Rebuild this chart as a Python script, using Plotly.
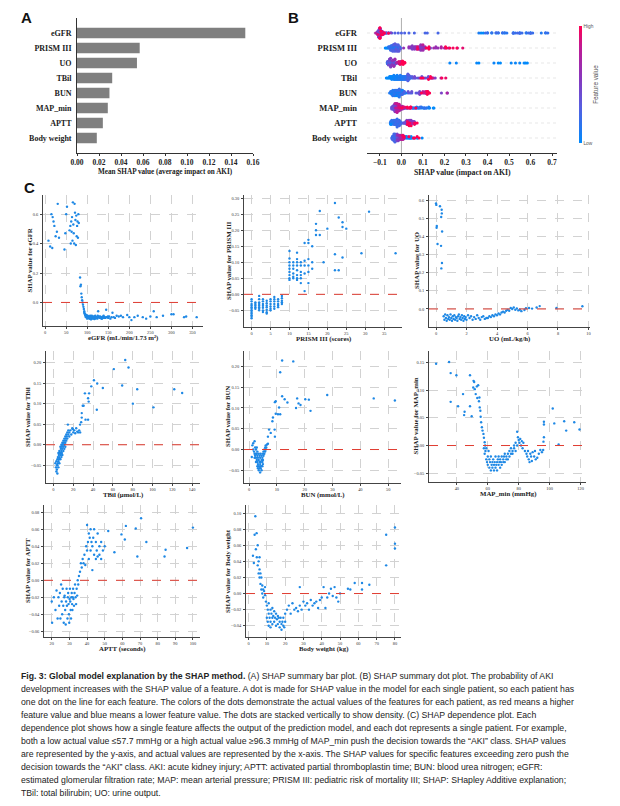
import numpy as np
import plotly.graph_objects as go

# ---------------- data ----------------
features = ["eGFR", "PRISM III", "UO", "TBil", "BUN", "MAP_min", "APTT", "Body weight"]
mean_abs_shap = [0.153, 0.057, 0.0545, 0.032, 0.0295, 0.028, 0.0235, 0.018]

egfr_val = [8, 12, 15, 17, 18, 20, 22, 25, 28, 30, 33, 46, 48, 50, 52,
            58, 60, 61, 62, 63, 64, 65, 66, 67, 68, 69, 70, 71, 72, 73, 74, 75, 76, 77, 78, 79, 80,
            83, 84, 85, 86, 87, 88, 89, 90, 91,
            92, 93, 94, 95, 96, 97, 98, 99, 100, 101, 102, 103, 104, 105, 106, 107, 108, 109, 110, 111,
            112, 113, 114, 115, 116, 117, 118, 119, 120, 122, 124, 126, 128, 130, 132, 134, 136, 138, 140, 142,
            145, 148, 150, 152, 155, 158, 160, 163, 166, 170,
            93, 95, 97, 99, 101, 103, 105, 107, 109, 111, 113, 115, 117, 119, 121, 123, 125, 127, 129, 131,
            133, 135, 137, 139, 141, 143, 146, 149,
            175, 180, 185, 195, 200, 205, 212, 220, 232, 240, 250, 258, 265, 280, 300, 305, 330, 335, 360]
egfr_shap = [0.42, 0.38, 0.60, 0.37, 0.58, 0.55, 0.52, 0.45, 0.48, 0.67, 0.44, 0.36, 0.47, 0.60, 0.65,
             0.49, 0.52, 0.40, 0.55, 0.48, 0.58, 0.42, 0.68, 0.53, 0.47, 0.40, 0.67, 0.61, 0.56, 0.39, 0.59,
             0.45, 0.52, 0.55, 0.44, 0.60, 0.54,
             0.17, 0.11, 0.12, 0.06, 0.035, 0.015, 0.0, -0.015, -0.03,
             -0.045, -0.06, -0.075, -0.08, -0.09, -0.095, -0.085, -0.10, -0.11, -0.09,
             -0.1, -0.105, -0.095, -0.11, -0.1, -0.09, -0.105, -0.115, -0.1, -0.095,
             -0.108, -0.1, -0.11, -0.105, -0.095, -0.112, -0.1, -0.09, -0.105, -0.1,
             -0.11, -0.06, -0.095, -0.1, -0.105, -0.11, -0.1, -0.095, -0.105, -0.1,
             -0.05, -0.1, -0.105, -0.095, -0.11, -0.1, -0.07, -0.1, -0.105, -0.09,
             -0.07, -0.085, -0.1, -0.09, -0.105, -0.095, -0.1, -0.11, -0.1, -0.09,
             -0.105, -0.1, -0.095, -0.11, -0.1, -0.105, -0.09, -0.1, -0.105, -0.095,
             -0.1, -0.11, -0.1, -0.09, -0.1, -0.105, -0.1, -0.095,
             -0.095, -0.09, -0.1, -0.085, -0.1, -0.12, -0.1, -0.09, -0.1, -0.11,
             -0.095, -0.06, -0.1, -0.09, -0.08, -0.08, -0.1, -0.095, -0.1]

prism_score = [0, 0, 0, 0, 0, 0, 0, 0, 0, 0, 0, 0,
               1, 1, 1, 1, 1,
               2, 2, 2, 2, 2, 2, 2, 2,
               3, 3, 3, 3, 3, 3, 3,
               4, 4, 4, 4, 4, 4, 4,
               5, 5, 5, 5, 5, 5,
               6, 6, 6, 6, 6, 6,
               7, 7, 7, 7, 7,
               8, 8, 8, 8, 8,
               10, 10, 10, 10, 10, 10, 10, 10, 10,
               11, 11, 11, 11, 11, 11,
               12, 12, 12, 12, 12, 12, 12, 12,
               13, 13, 13, 13, 13, 13,
               14, 14, 14, 14, 14,
               15, 15, 15, 15, 15, 15,
               16, 16, 16,
               17, 17, 17,
               18, 18,
               19, 20,
               22, 22, 22,
               23, 23,
               24, 24, 24,
               25, 29, 31, 38]
prism_shap = [-0.015, -0.022, -0.03, -0.035, -0.04, -0.045, -0.05, -0.055, -0.06, -0.065, -0.07, -0.075,
              -0.025, -0.03, -0.035, -0.04, -0.045,
              -0.005, -0.015, -0.025, -0.03, -0.035, -0.04, -0.045, -0.05,
              -0.015, -0.022, -0.03, -0.036, -0.042, -0.05, -0.055,
              -0.02, -0.028, -0.035, -0.04, -0.048, -0.056, -0.06,
              -0.015, -0.022, -0.03, -0.038, -0.045, -0.05,
              -0.008, -0.015, -0.022, -0.03, -0.038, -0.045,
              -0.015, -0.022, -0.03, -0.035, -0.04,
              -0.005, -0.012, -0.02, -0.025, -0.03,
              0.135, 0.112, 0.10, 0.09, 0.08, 0.07, 0.06, 0.05, 0.045,
              0.10, 0.09, 0.08, 0.065, 0.055, 0.05,
              0.13, 0.11, 0.10, 0.09, 0.075, 0.06, 0.05, 0.045,
              0.10, 0.09, 0.07, 0.06, 0.05, 0.035,
              0.16, 0.105, 0.09, 0.065, 0.01,
              0.17, 0.16, 0.11, 0.09, 0.07, 0.035,
              0.15, 0.10, 0.08,
              0.22, 0.20, 0.185,
              0.26, 0.185,
              0.10, 0.205,
              0.285, 0.125, 0.075,
              0.24, 0.075,
              0.225, 0.21, 0.115,
              0.205, 0.128, 0.258, 0.128]

uo_val = [0.0, 0.02, 0.04, 0.05, 0.1, 0.26, 0.33, 0.37, 0.38, 0.34, 0.40, 0.39, 0.35,
          0.5, 0.55, 0.6, 0.65, 0.7, 0.75, 0.8, 0.85, 0.9, 0.95, 1.0, 1.05, 1.1, 1.15, 1.2,
          1.25, 1.3, 1.35, 1.4, 1.45, 1.5, 1.55, 1.6, 1.65, 1.7, 1.75, 1.8, 1.85, 1.9, 1.95,
          2.0, 2.1, 2.2, 2.3, 2.4, 2.5, 2.6, 2.7, 2.8, 2.9, 3.0, 3.1, 3.2, 3.3,
          3.4, 3.5, 3.6, 3.7, 3.8, 3.9, 4.0, 4.1, 4.2, 4.3, 4.4, 4.5, 4.6, 4.7, 4.8,
          4.9, 5.0, 5.1, 5.2, 5.3, 5.4, 5.5, 5.6, 5.8, 5.9,
          6.1, 6.3, 6.6, 6.8, 7.9, 9.6]
uo_shap = [0.585, 0.577, 0.45, 0.46, 0.36, 0.57, 0.35, 0.55, 0.53, 0.51, 0.43, 0.255, 0.225,
           -0.04, -0.06, -0.03, -0.05, -0.065, -0.035, -0.055, -0.045, -0.06, -0.03,
           -0.05, -0.065, -0.04, -0.055, -0.035, -0.06, -0.045, -0.05, -0.065, -0.04,
           -0.03, -0.055, -0.045, -0.06, -0.035, -0.05, -0.065, -0.04, -0.055, -0.045,
           -0.06, -0.035, -0.05, -0.04, -0.06, -0.045, -0.055, -0.035, -0.05, -0.06,
           -0.045, -0.04, -0.055, -0.05,
           -0.05, -0.04, -0.045, -0.035, -0.04, -0.03, -0.035, -0.025, -0.03, -0.02,
           -0.015, -0.02, -0.01, -0.005, -0.01,
           0.005, 0.0, 0.008, -0.005, 0.003, -0.008, -0.004, -0.012, -0.006, 0.004,
           0.005, 0.002, 0.008, 0.016, 0.005, 0.015]

tbil_val = [2, 2.5, 3, 3, 3.5, 3.5, 4, 4, 4, 4.5, 4.5, 5, 5, 5, 5.5, 5.5, 6, 6, 6, 6.5,
            6.5, 7, 7, 7, 7.5, 7.5, 8, 8, 8, 8.5, 8.5, 9, 9, 9, 9.5, 10, 10, 10, 10.5, 11,
            11, 11, 11.5, 12, 12, 12, 12.5, 13, 13, 13.5, 14, 14, 15, 15, 16, 16, 17, 18, 19, 20,
            21, 22, 23, 24, 25, 26, 27,
            14.6, 19.6, 26.9, 28, 28.6, 28.6, 29.6, 30.5, 32.4, 35, 31.8, 36, 35, 35.6, 43.8,
            38.2, 40.9, 44.2, 49.9, 61, 69.4, 72.5, 75.8, 80.2, 84.6, 101, 122, 130]
tbil_shap = [-0.045, -0.055, -0.04, -0.065, -0.05, -0.06, -0.035, -0.05, -0.07, -0.03,
             -0.045, -0.02, -0.04, -0.055, -0.025, -0.035, -0.015, -0.03, -0.045, -0.02,
             -0.035, -0.005, -0.02, -0.035, -0.01, -0.025, 0.0, -0.015, -0.03, -0.005,
             -0.02, 0.005, -0.01, -0.025, 0.0, 0.01, -0.005, -0.015, 0.005, 0.015,
             0.0, -0.01, 0.01, 0.02, 0.005, -0.005, 0.015, 0.025, 0.01, 0.02,
             0.03, 0.015, 0.025, 0.035, 0.02, 0.03, 0.035, 0.025, 0.04, 0.03,
             0.035, 0.028, 0.04, 0.032, 0.03, 0.035, 0.03,
             0.049, 0.038, 0.049, 0.055, 0.066, 0.077, 0.095, 0.095, 0.061, 0.061, 0.125, 0.125,
             0.113, 0.105, 0.085, 0.142, 0.157, 0.149, 0.138, 0.184, 0.144, 0.206, 0.188, 0.100,
             0.135, 0.091, 0.135, 0.126]

bun_val = [1.0, 1.2, 1.5, 1.5, 1.8, 2.0, 2.0, 2.2, 2.2, 2.5, 2.5, 2.5, 2.8, 2.8, 3.0, 3.0, 3.0,
           3.2, 3.2, 3.5, 3.5, 3.5, 3.8, 3.8, 4.0, 4.0, 4.0, 4.2, 4.2, 4.5, 4.5, 4.5, 4.8, 4.8,
           5.0, 5.0, 5.2, 5.2, 5.5, 5.5, 5.8, 5.8, 6.0, 6.0, 6.2, 6.5,
           2.0, 2.5, 3.0, 3.5, 4.0, 4.5, 5.0, 3.2, 3.8, 4.2, 2.8, 4.8,
           6.8, 6.8, 7.2, 7.8, 8.4, 8.6, 9.2, 9.6, 9.3, 9.3, 9.6, 10.4, 10.8, 11.2, 11.2,
           11.9, 11.9, 12.8, 13.8, 15.9, 16.9, 17.3, 17.8, 18.5, 20.2, 21.5, 22.1, 28.1, 44.8, 52.4]
bun_shap = [-0.018, 0.01, 0.0, 0.015, -0.005, 0.02, -0.01, 0.005, -0.015, -0.01,
            -0.02, 0.0, -0.025, -0.01, -0.03, -0.015, -0.005, -0.035, -0.02, -0.04,
            -0.025, -0.01, -0.03, -0.045, -0.055, -0.035, -0.02, -0.045, -0.03, -0.04,
            -0.025, -0.015, -0.03, -0.02, -0.025, -0.01, -0.015, -0.005, -0.01, 0.0,
            -0.005, 0.005, 0.0, 0.01, 0.005, 0.012,
            -0.02, -0.03, -0.04, -0.05, -0.04, -0.05, -0.035, -0.045, -0.015, -0.01, 0.005, -0.04,
            0.014, 0.031, 0.048, 0.04, 0.068, 0.077, 0.048, 0.086, 0.031, 0.114, 0.116, 0.085,
            0.101, 0.085, 0.186, 0.214, 0.128, 0.121, 0.113, 0.212, 0.1, 0.123, 0.111, 0.107,
            0.121, 0.12, 0.093, 0.131, 0.123, 0.118]

map_val = [26.6, 35, 36, 36, 39.7, 40.8, 44, 45, 44.7, 48.5, 48.5, 49.6, 50.6, 50.8, 51.2, 51.6,
           52.2, 52.9, 53.2, 53.8, 54.3, 54.6, 54.8, 55.2, 55.4, 55.7, 56.2, 56.6, 57.2, 57.5, 58.0, 58.3,
           57.5, 58, 58.5, 59, 59, 59.5, 60, 60, 60.5, 61, 61, 61.5, 62, 62, 62.5, 63, 63, 63.5, 64, 64,
           64.5, 65, 65, 65.5, 66, 66, 66.5, 67, 67, 67.5, 68, 68, 68.5, 69, 69, 70, 70, 70.5, 71, 71,
           72, 72, 73, 73, 74, 74, 75, 75, 76, 76, 77, 77, 78, 78, 79,
           79, 79.5, 80, 80.5, 81, 81.5, 82, 82.5, 83, 84, 85, 85.5, 86, 86.5, 87, 87.5, 88, 88.5,
           89, 90, 90.5, 91, 92, 93, 94, 95,
           96.3, 96.3, 96.3, 96.0, 95.8, 102, 103, 105.8, 109.4, 110.7, 115.9, 119.3]
map_shap = [0.148, 0.151, 0.131, 0.079, 0.127, 0.071, 0.093, 0.061, 0.055, 0.127, 0.071, 0.053,
            0.105, 0.117, 0.115, 0.102, 0.093, 0.107, 0.086, 0.109, 0.08, 0.087, 0.069, 0.063,
            0.052, 0.042, 0.033, 0.027, 0.021, 0.014, 0.006, 0.0,
            -0.005, -0.015, -0.01, -0.025, -0.005, -0.03, -0.02, -0.035, -0.01, -0.04,
            -0.025, -0.03, -0.045, -0.02, -0.035, -0.03, -0.04, -0.025, -0.035, -0.045,
            -0.03, -0.04, -0.02, -0.035, -0.03, -0.045, -0.025, -0.035, -0.02, -0.03,
            -0.04, -0.025, -0.03, -0.02, -0.035, -0.025, -0.03, -0.02, -0.03, -0.015,
            -0.025, -0.02, -0.015, -0.025, -0.02, -0.01, -0.015, -0.005, -0.01, -0.015,
            0.0, -0.005, 0.005, -0.01, 0.0,
            0.025, 0.015, 0.01, 0.005, 0.012, 0.0, 0.008, -0.005, 0.005, -0.01,
            -0.015, -0.02, -0.01, -0.025, -0.03, -0.015, -0.02, -0.028, -0.012, -0.02,
            -0.01, -0.025, -0.022, -0.015, -0.008, -0.012,
            0.038, 0.043, 0.015, 0.007, -0.008, 0.067, 0.04, 0.002, 0.044, 0.027, 0.042, 0.029]

aptt_val = [20.0, 21.2, 22.1, 22.7, 23.3, 23.8, 24.2, 24.6, 24.9, 25.3, 25.6, 25.9, 26.2, 26.5,
            26.8, 27.1, 27.3, 27.6, 27.9, 28.1, 28.4, 28.6, 28.9, 29.1, 29.3, 29.5, 29.7, 29.9,
            30.1, 30.3, 30.5, 30.7, 30.9, 31.1, 31.3, 31.5, 31.7, 31.9, 32.1, 32.3, 32.6, 32.9,
            33.2, 33.5, 33.8, 34.1, 34.4, 34.7, 35.0, 35.4, 20.2,
            36, 36.5, 37, 37.5, 38, 38.5, 39, 39.5, 40, 40, 40.5, 41, 41, 41.5, 42, 42, 42.5,
            43, 43, 43.5, 44, 44, 45, 45, 45.5, 46, 46, 47, 47, 48, 48, 49, 50,
            52, 55.5, 59.5, 61.4, 62, 67.6, 68.5, 70.6, 73.6, 83.9, 84.5, 96.7, 100]
aptt_shap = [-0.025, -0.02, -0.035, -0.012, -0.045, -0.02, -0.03, -0.015, -0.045, -0.005,
             -0.025, -0.04, -0.01, -0.03, -0.05, -0.02, -0.018, -0.035, -0.052, -0.025,
             -0.01, -0.03, -0.045, -0.02, -0.015, -0.028, -0.04, -0.05, -0.022, -0.01,
             -0.025, -0.035, -0.045, -0.02, -0.015, -0.028, -0.035, -0.02, -0.01, -0.022,
             -0.03, -0.015, -0.005, -0.02, -0.028, -0.01, -0.018, 0.0, -0.005, 0.005, -0.05,
             0.01, 0.02, 0.015, 0.025, 0.02, 0.03, 0.018, 0.04, 0.035, 0.065,
             0.045, 0.025, 0.055, 0.05, 0.06, 0.035, 0.045, 0.012, 0.04, 0.05,
             0.03, 0.06, 0.025, 0.045, 0.035, 0.028, 0.055, 0.04, 0.03, 0.045,
             0.025, 0.035, 0.04,
             0.058, 0.033, 0.054, 0.048, 0.064, 0.061, 0.028, 0.073, 0.045, 0.028, 0.036, 0.038, 0.062]

bw_val = [2.4, 2.9, 3.3, 3.7, 4.4, 4.0, 4.5, 5.0, 5.0, 5.5, 5.5, 6.0, 6.0, 6.0, 6.5, 6.5, 7.0, 7.0,
          7.5, 7.5, 8.0, 8.0, 8.5, 9.0, 9.0,
          9.5, 10, 10, 10.5, 10.5, 11, 11, 11, 11.5, 12, 12, 12, 12.5, 13, 13, 13, 13.5, 14, 14, 14.5,
          15, 15, 15.5, 16, 16, 16.5, 17, 17, 17.5, 18, 18, 18.5, 19, 19, 19.5, 20, 20,
          21, 22, 23, 24, 25, 26, 27, 28, 28, 29, 30, 31, 32, 33, 34, 35, 36, 37, 38, 39,
          40, 41, 42, 43, 44, 45, 46, 47, 48, 49, 50,
          54.3, 55.6, 58, 62, 62, 66, 75.2, 75.2, 80, 80, 80]
bw_shap = [0.047, 0.038, 0.073, 0.096, 0.075, 0.055, 0.045, 0.06, 0.035, 0.04,
           0.025, 0.045, 0.03, 0.02, 0.025, 0.012, 0.02, 0.005, 0.01, 0.0,
           0.005, -0.005, 0.003, -0.002, 0.008,
           -0.01, -0.015, -0.03, -0.02, -0.035, -0.025, -0.04, -0.012, -0.03, -0.02,
           -0.035, -0.042, -0.025, -0.03, -0.018, -0.038, -0.028, -0.022, -0.035, -0.03,
           -0.025, -0.04, -0.032, -0.028, -0.038, -0.03, -0.035, -0.042, -0.03, -0.038,
           -0.045, -0.035, -0.04, -0.03, -0.042, -0.035, -0.025,
           -0.02, -0.015, -0.025, -0.012, -0.02, -0.018, -0.022, 0.008, -0.015, -0.02,
           -0.01, -0.015, -0.012, -0.02, -0.008, -0.015, -0.012, -0.01, -0.018, -0.008,
           -0.005, 0.008, -0.018, -0.005, 0.0, 0.006, -0.003, 0.008, -0.005, -0.01, 0.0,
           0.006, 0.005, 0.013, 0.013, 0.005, 0.011, 0.073, 0.035, 0.082, 0.062, 0.056]

# tick values
bar_ticks = [0.00, 0.02, 0.04, 0.06, 0.08, 0.10, 0.12, 0.14, 0.16]
swarm_ticks = [-0.1, 0.0, 0.1, 0.2, 0.3, 0.4, 0.5, 0.6, 0.7]
egfr_xt, egfr_yt = [0, 50, 100, 150, 200, 250, 300, 350], [0.0, 0.2, 0.4, 0.6]
prism_xt, prism_yt = [0, 5, 10, 15, 20, 25, 30, 35], [-0.05, 0.0, 0.05, 0.10, 0.15, 0.20, 0.25, 0.30]
uo_xt, uo_yt = [0, 2, 4, 6, 8, 10], [0.0, 0.1, 0.2, 0.3, 0.4, 0.5, 0.6]
tbil_xt, tbil_yt = [0, 20, 40, 60, 80, 100, 120, 140], [-0.05, 0.0, 0.05, 0.10, 0.15, 0.20]
bun_xt, bun_yt = [0, 10, 20, 30, 40, 50], [-0.05, 0.0, 0.05, 0.10, 0.15, 0.20]
map_xt, map_yt = [40, 60, 80, 100, 120], [-0.05, 0.0, 0.05, 0.10, 0.15]
aptt_xt, aptt_yt = [20, 30, 40, 50, 60, 70, 80, 90, 100], [-0.06, -0.04, -0.02, 0.0, 0.02, 0.04, 0.06, 0.08]
bw_xt, bw_yt = [0, 10, 20, 30, 40, 50, 60, 70, 80], [-0.04, -0.02, 0.0, 0.02, 0.04, 0.06, 0.08, 0.10]

caption_lines = [
    "<b>Fig. 3: Global model explanation by the SHAP method.</b> (A) SHAP summary bar plot. (B) SHAP summary dot plot. The probability of AKI",
    "development increases with the SHAP value of a feature. A dot is made for SHAP value in the model for each single patient, so each patient has",
    "one dot on the line for each feature. The colors of the dots demonstrate the actual values of the features for each patient, as red means a higher",
    "feature value and blue means a lower feature value. The dots are stacked vertically to show density. (C) SHAP dependence plot. Each",
    "dependence plot shows how a single feature affects the output of the prediction model, and each dot represents a single patient. For example,",
    "both a low actual value \u226457.7 mmHg or a high actual value \u226596.3 mmHg of MAP_min push the decision towards the \u201cAKI\u201d class. SHAP values",
    "are represented by the y-axis, and actual values are represented by the x-axis. The SHAP values for specific features exceeding zero push the",
    "decision towards the \u201cAKI\u201d class. AKI: acute kidney injury; APTT: activated partial thromboplastin time; BUN: blood urea nitrogen; eGFR:",
    "estimated glomerular filtration rate; MAP: mean arterial pressure; PRISM III: pediatric risk of mortality III; SHAP: SHapley Additive explanation;",
    "TBil: total bilirubin; UO: urine output.",
]

# ---------------- layout helpers ----------------
W, H = 620, 806
SERIF = "Liberation Serif"
SANS = "Liberation Sans"


def dx(a, b):
    return [a / W, b / W]


def dy(top, bottom):
    return [1 - bottom / H, 1 - top / H]


def swarm_offsets(vals, nbins=100, row_height=0.4):
    v = np.asarray(vals, float)
    q = np.round(nbins * (v - v.min()) / (v.max() - v.min() + 1e-8))
    order = np.argsort(q, kind="stable")
    ys = np.zeros(len(v))
    layer, last = 0, None
    for i in order:
        if q[i] != last:
            layer = 0
        ys[i] = np.ceil(layer / 2) * ((layer % 2) * 2 - 1)
        layer += 1
        last = q[i]
    ys *= 0.9 * (row_height / np.max(ys + 1))
    return ys


def norm_color(vals):
    v = np.asarray(vals, float)
    lo, hi = np.percentile(v, 5), np.percentile(v, 95)
    if hi <= lo:
        lo, hi = v.min(), v.max()
    return np.clip((v - lo) / (hi - lo), 0, 1)


fig = go.Figure()
layout = dict(width=W, height=H, margin=dict(l=0, r=0, t=0, b=0),
              paper_bgcolor="white", plot_bgcolor="white", showlegend=False,
              template="none", font=dict(family=SERIF, color="#222"))
shapes, annots = [], []

tick_bold = dict(family=SERIF, size=7.5, color="#222", weight="bold")

# ---------------- Panel A ----------------
fig.add_trace(go.Bar(x=mean_abs_shap, y=features, orientation="h", width=0.7,
                     marker=dict(color="#7f7f7f", line=dict(width=0)),
                     xaxis="x", yaxis="y", hoverinfo="skip"))
layout["xaxis"] = dict(domain=dx(77, 253), range=[0, 0.16], tickvals=bar_ticks, tickformat=".2f",
                       showline=True, linecolor="#333", linewidth=0.8, ticks="outside", ticklen=2,
                       tickwidth=0.6, tickcolor="#333", showgrid=False, zeroline=False,
                       ticklabelstandoff=0, tickfont=tick_bold, anchor="y", automargin=False)
layout["yaxis"] = dict(domain=dy(18, 153), type="category", categoryorder="array",
                       categoryarray=features[::-1], range=[-1, 8], showline=True, linecolor="#333",
                       linewidth=0.8, ticks="", showgrid=False, zeroline=False, ticklabelstandoff=3,
                       tickfont=dict(family=SERIF, size=8, color="#222", weight="bold"),
                       anchor="x", automargin=False)
annots.append(dict(text="<b>Mean SHAP value (average impact on AKI)</b>", x=165 / W, y=1 - 172 / H,
                   xref="paper", yref="paper", showarrow=False, xanchor="center", yanchor="middle",
                   font=dict(family=SERIF, size=7.2, color="#222")))

# ---------------- Panel B ----------------
all_vals = [egfr_val, prism_score, uo_val, tbil_val, bun_val, map_val, aptt_val, bw_val]
all_shap = [egfr_shap, prism_shap, uo_shap, tbil_shap, bun_shap, map_shap, aptt_shap, bw_shap]
colorscale = [[0, "rgb(0,138,251)"], [0.3, "rgb(85,95,225)"], [0.55, "rgb(135,55,190)"],
              [0.82, "rgb(192,25,148)"], [1, "rgb(255,0,82)"]]
for i, (vals, shp) in enumerate(zip(all_vals, all_shap)):
    row = len(features) - 1 - i
    offs = swarm_offsets(shp)
    fig.add_trace(go.Scatter(
        x=shp, y=row + offs, mode="markers", xaxis="x2", yaxis="y2", hoverinfo="skip",
        marker=dict(size=3.1, color=norm_color(vals), colorscale=colorscale, cmin=0, cmax=1,
                    line=dict(width=0), showscale=(i == 0),
                    colorbar=dict(x=569 / W, xanchor="left", y=1 - 84.5 / H, yanchor="middle",
                                  len=137 / H, lenmode="fraction", thickness=3, outlinewidth=0,
                                  tickvals=[0, 1], ticktext=["Low", "High"], ticks="",
                                  tickfont=dict(family=SANS, size=4.8, color="#555"),
                                  title=dict(text="Feature value", side="right",
                                             font=dict(family=SANS, size=6.3, color="#555"))))))
    shapes.append(dict(type="line", xref="x2 domain", x0=0, x1=1, yref="y2", y0=row, y1=row,
                       line=dict(color="#cccccc", width=0.5, dash="dot"), layer="below"))
shapes.append(dict(type="line", xref="x2", x0=0, x1=0, yref="y2 domain", y0=0, y1=1,
                   line=dict(color="#999999", width=0.8), layer="below"))
layout["xaxis2"] = dict(domain=dx(367, 557), range=[-0.16, 0.723], tickvals=swarm_ticks, tickformat=".1f",
                        showline=True, linecolor="#333", linewidth=0.8, ticks="outside", ticklen=2,
                        tickwidth=0.6, tickcolor="#333", showgrid=False, zeroline=False,
                        ticklabelstandoff=0, tickfont=tick_bold, anchor="y2", automargin=False)
layout["yaxis2"] = dict(domain=dy(18, 153), range=[-1, 8], tickvals=list(range(len(features))),
                        ticktext=features[::-1], showline=False, ticks="", showgrid=False,
                        zeroline=False, ticklabelstandoff=9,
                        tickfont=dict(family=SERIF, size=8.5, color="#222", weight="bold"),
                        anchor="x2", automargin=False)
annots.append(dict(text="<b>SHAP value (impact on AKI)</b>", x=462 / W, y=1 - 173 / H,
                   xref="paper", yref="paper", showarrow=False, xanchor="center", yanchor="middle",
                   font=dict(family=SERIF, size=7.8, color="#222")))

# ---------------- Panel C ----------------
c_specs = [
    (egfr_val, egfr_shap, (43, 203), (195, 326), [-5, 375], [-0.16, 0.73], egfr_xt, egfr_yt, ".1f",
     "eGFR (mL/min/1.73 m\u00b2)", "SHAP value for eGFR", 14),
    (prism_score, prism_shap, (244, 402), (195, 327), [-2, 39.7], [-0.102, 0.31], prism_xt, prism_yt, ".2f",
     "PRISM III (scores)", "SHAP value for PRISM III", 16),
    (uo_val, uo_shap, (429, 590), (195, 327), [-0.46, 10.1], [-0.1, 0.632], uo_xt, uo_yt, ".1f",
     "UO (mL/kg/h)", "SHAP value for UO", 13),
    (tbil_val, tbil_shap, (46, 200), (351, 483), [-7.5, 148], [-0.093, 0.228], tbil_xt, tbil_yt, ".2f",
     "TBil (\u03bcmol/L)", "SHAP value for TBil", 19),
    (bun_val, bun_shap, (244, 401), (351, 483), [-1.8, 54.6], [-0.0805, 0.237], bun_xt, bun_yt, ".2f",
     "BUN (mmol/L)", "SHAP value for BUN", 17),
    (map_val, map_shap, (429, 586), (351, 482), [22, 123.5], [-0.066, 0.171], map_xt, map_yt, ".2f",
     "MAP_min (mmHg)", "SHAP value for MAP_min", 14),
    (aptt_val, aptt_shap, (44, 200), (505, 637), [15.6, 104], [-0.0667, 0.0886], aptt_xt, aptt_yt, ".2f",
     "APTT (seconds)", "SHAP value for APTT", 17),
    (bw_val, bw_shap, (246, 401), (505, 637), [-1.4, 83.3], [-0.054, 0.110], bw_xt, bw_yt, ".2f",
     "Body weight (kg)", "SHAP value for Body weight", 19),
]

small_tick = dict(family=SERIF, size=4.4, color="#333")
for k, (xv, yv, (l, r), (t, b), xr, yr, xt, yt, yfmt, xtitle, ytitle, yoff) in enumerate(c_specs):
    n = k + 3
    fig.add_trace(go.Scatter(x=xv, y=yv, mode="markers", xaxis=f"x{n}", yaxis=f"y{n}", hoverinfo="skip",
                             marker=dict(size=2.4, color="#1E88E5", line=dict(width=0))))
    grid = dict(showgrid=True, gridcolor="#d2d2d2", griddash="dash", gridwidth=0.6)
    layout[f"xaxis{n}"] = dict(domain=dx(l, r), range=xr, tickvals=xt, showline=True, linecolor="#444",
                               linewidth=0.7, ticks="outside", ticklen=2, tickwidth=0.5, tickcolor="#444",
                               zeroline=False, tickfont=small_tick, anchor=f"y{n}", automargin=False,
                               ticklabelstandoff=0, **grid)
    layout[f"yaxis{n}"] = dict(domain=dy(t, b), range=yr, tickvals=yt, tickformat=yfmt, showline=True,
                               linecolor="#444", linewidth=0.7, ticks="outside", ticklen=2, tickwidth=0.5,
                               tickcolor="#444", zeroline=False, tickfont=small_tick, anchor=f"x{n}",
                               automargin=False, ticklabelstandoff=1, **grid)
    shapes.append(dict(type="line", xref=f"x{n} domain", x0=0, x1=1, yref=f"y{n}", y0=0, y1=0,
                       line=dict(color="#e03c31", width=1.0, dash="dash"), layer="above"))
    annots.append(dict(text=f"<b>{xtitle}</b>", x=(l + r) / 2 / W, y=1 - (b + 12) / H, xref="paper",
                       yref="paper", showarrow=False, xanchor="center", yanchor="middle",
                       font=dict(family=SERIF, size=6.8, color="#222")))
    annots.append(dict(text=f"<b>{ytitle}</b>", x=(l - yoff) / W, y=1 - (t + b) / 2 / H, xref="paper",
                       yref="paper", showarrow=False, xanchor="center", yanchor="middle", textangle=-90,
                       font=dict(family=SERIF, size=6.8, color="#222")))

# ---------------- panel letters ----------------
for letter, px, py in [("A", 26, 18), ("B", 293, 18), ("C", 29, 188)]:
    annots.append(dict(text=f"<b>{letter}</b>", x=px / W, y=1 - py / H, xref="paper", yref="paper",
                       showarrow=False, xanchor="center", yanchor="middle",
                       font=dict(family=SANS, size=15, color="#111")))

# ---------------- caption ----------------
for j, line in enumerate(caption_lines):
    annots.append(dict(text=line, x=19 / W, y=1 - (676 + 13 * j) / H, xref="paper", yref="paper",
                       showarrow=False, xanchor="left", yanchor="middle", align="left",
                       font=dict(family=SANS, size=8.7, color="#222")))

layout["shapes"] = shapes
layout["annotations"] = annots
fig.update_layout(**layout)
fig.write_html("out.html", config={"displayModeBar": False},
               post_script="document.body.style.margin='0';document.body.style.padding='0';")
